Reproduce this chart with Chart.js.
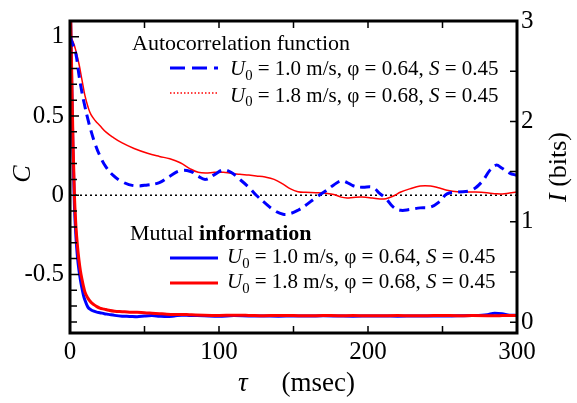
<!DOCTYPE html>
<html>
<head>
<meta charset="utf-8">
<script src="https://cdn.jsdelivr.net/npm/chart.js@4.4.1/dist/chart.umd.min.js"></script>
<style>
  html, body { margin: 0; padding: 0; background: #fff; }
  #chart { display: block; }
</style>
</head>
<body>
<canvas id="chart" width="577" height="403"></canvas>
<script>
// mutual information, I (bits), right axis
const tauMI = [0, 1, 2, 3, 4, 5, 6, 7, 8, 9, 10, 12, 14, 16, 18, 20, 23, 26, 30, 35, 40, 45, 50, 55, 60, 65, 70, 75, 80, 90,
  100, 110, 120, 130, 140, 150, 160, 170, 180, 190, 200, 210, 220, 230, 240, 250, 260, 270, 280, 285, 290, 295, 300];
const miBlue = [3.4, 2.5, 1.7, 1.15, 0.85, 0.65, 0.52, 0.42, 0.34, 0.27, 0.22, 0.15, 0.125, 0.11, 0.1, 0.095, 0.085, 0.078, 0.068, 0.06,
  0.058, 0.055, 0.062, 0.066, 0.06, 0.056, 0.062, 0.07, 0.068, 0.064, 0.06, 0.066, 0.063, 0.062, 0.06, 0.063, 0.061, 0.064, 0.062, 0.06,
  0.062, 0.063, 0.06, 0.062, 0.063, 0.061, 0.064, 0.066, 0.075, 0.09, 0.085, 0.07, 0.068];
const miRed = [3.4, 2.6, 1.8, 1.25, 0.95, 0.76, 0.62, 0.51, 0.43, 0.36, 0.3, 0.24, 0.2, 0.175, 0.155, 0.14, 0.13, 0.12, 0.11, 0.105,
  0.1, 0.098, 0.095, 0.09, 0.085, 0.08, 0.078, 0.078, 0.075, 0.07, 0.068, 0.07, 0.068, 0.065, 0.068, 0.066, 0.064, 0.067, 0.065, 0.066,
  0.064, 0.065, 0.066, 0.064, 0.065, 0.067, 0.065, 0.066, 0.065, 0.064, 0.066, 0.068, 0.068];

// autocorrelation, C, left axis
const tauAC = [0, 2, 4, 6, 8, 10, 12, 14, 17, 20, 24, 29, 35, 43, 52, 60, 67, 74, 81, 86, 91, 97, 103, 108, 114, 120, 125, 131, 137,
  143, 148, 153, 158, 165, 172, 177, 182, 186, 190, 196, 203, 208, 212, 217, 222, 228, 235, 242, 248, 253, 260, 269, 276, 282, 286,
  290, 295, 300];
const acBlue = [1.0, 0.95, 0.89, 0.76, 0.65, 0.56, 0.48, 0.41, 0.32, 0.25, 0.18, 0.125, 0.085, 0.06, 0.065, 0.08, 0.12, 0.155, 0.15,
  0.12, 0.1, 0.13, 0.16, 0.145, 0.1, 0.05, 0.0, -0.05, -0.095, -0.12, -0.115, -0.095, -0.065, -0.015, 0.03, 0.065, 0.09, 0.08, 0.06,
  0.05, 0.05, 0.01, -0.02, -0.075, -0.095, -0.09, -0.08, -0.075, -0.04, 0.008, 0.02, 0.03, 0.08, 0.16, 0.19, 0.17, 0.14, 0.125];
const acRed = [1.0, 0.97, 0.91, 0.83, 0.73, 0.63, 0.56, 0.51, 0.47, 0.44, 0.4, 0.365, 0.33, 0.295, 0.265, 0.245, 0.23, 0.205, 0.165,
  0.145, 0.14, 0.145, 0.145, 0.138, 0.132, 0.127, 0.122, 0.115, 0.1, 0.07, 0.04, 0.022, 0.018, 0.016, 0.012, 0.005, -0.012, -0.017,
  -0.014, -0.012, -0.018, -0.024, -0.022, -0.005, 0.02, 0.04, 0.058, 0.058, 0.045, 0.032, 0.022, 0.02, 0.019, 0.013, 0.009, 0.008,
  0.014, 0.02];

const tauTicks = [0, 100, 200, 300];
const cTicks = [-0.5, 0, 0.5, 1];
const iTicks = [0, 1, 2, 3];

const legendU = ['1.0', '1.8'];
const legendPhi = ['0.64', '0.68'];
const legendS = '0.45';

const blue = '#0000ff';
const red = '#ff0000';
const serif = '"Liberation Serif", "Times New Roman", serif';

function points(xs, ys) {
  return xs.map((x, i) => ({x: x, y: ys[i]}));
}

function setFont(ctx, p, size) {
  let fs = p.sub ? size * 0.7 : size;
  ctx.font = (p.italic ? 'italic ' : '') + (p.bold ? 'bold ' : '') + fs + 'px ' + serif;
}

function drawRich(ctx, x, y, parts, size) {
  parts.forEach(p => {
    setFont(ctx, p, size);
    ctx.fillText(p.t, x, p.sub ? y + size * 0.22 : y);
    x += ctx.measureText(p.t).width;
  });
  return x;
}

function richWidth(ctx, parts, size) {
  let w = 0;
  parts.forEach(p => {
    setFont(ctx, p, size);
    w += ctx.measureText(p.t).width;
  });
  return w;
}

function entryParts(i) {
  return [
    {t: 'U', italic: true}, {t: '0', sub: true},
    {t: ' = ' + legendU[i] + ' m/s, \u03c6 = ' + legendPhi[i] + ', '},
    {t: 'S', italic: true}, {t: ' = ' + legendS}
  ];
}

function sample(ctx, y, color, width, dash) {
  ctx.save();
  ctx.strokeStyle = color;
  ctx.lineWidth = width;
  ctx.setLineDash(dash);
  ctx.beginPath();
  ctx.moveTo(170, y);
  ctx.lineTo(218, y);
  ctx.stroke();
  ctx.restore();
}

const framePlugin = {
  id: 'frame',
  afterDatasetsDraw(chart) {
    const {ctx, chartArea: a, scales} = chart;
    ctx.save();
    ctx.strokeStyle = '#000';
    ctx.fillStyle = '#000';

    // inward tick marks
    ctx.lineWidth = 1.5;
    ctx.beginPath();
    for (let k = -8; k <= 11; k++) {
      const y = scales.y.getPixelForValue(k / 10);
      const len = k % 5 === 0 ? 9 : 7;
      ctx.moveTo(a.left, y); ctx.lineTo(a.left + len, y);
    }
    for (let k = 0; k <= 6; k++) {
      const y = scales.y1.getPixelForValue(k / 2);
      ctx.moveTo(a.right, y); ctx.lineTo(a.right - 7, y);
    }
    for (let k = 1; k < 6; k++) {
      const x = scales.x.getPixelForValue(k * 50);
      ctx.moveTo(x, a.bottom); ctx.lineTo(x, a.bottom - 7);
      ctx.moveTo(x, a.top); ctx.lineTo(x, a.top + 7);
    }
    ctx.stroke();

    ctx.lineWidth = 3;
    ctx.strokeRect(a.left, a.top, a.right - a.left, a.bottom - a.top);

    // axis titles
    ctx.textBaseline = 'middle';
    ctx.save();
    ctx.translate(23.5, 174);
    ctx.rotate(-Math.PI / 2);
    ctx.textAlign = 'center';
    ctx.font = 'italic 26px ' + serif;
    ctx.fillText('C', 0, 0);
    ctx.restore();

    ctx.save();
    ctx.translate(559, 167);
    ctx.rotate(-Math.PI / 2);
    const iParts = [{t: 'I', italic: true}, {t: ' (bits)'}];
    drawRich(ctx, -richWidth(ctx, iParts, 26) / 2, 0, iParts, 26);
    ctx.restore();

    ctx.textBaseline = 'alphabetic';
    drawRich(ctx, 238, 391, [{t: '\u03c4', italic: true}, {t: '     (msec)'}], 27);

    // annotations
    drawRich(ctx, 132, 50, [{t: 'Autocorrelation function'}], 22);
    sample(ctx, 68, blue, 3, [15, 7]);
    sample(ctx, 93, red, 1.5, [1.5, 2]);
    drawRich(ctx, 230, 75, entryParts(0), 21);
    drawRich(ctx, 230, 101.5, entryParts(1), 21);

    drawRich(ctx, 130, 240, [{t: 'Mutual '}, {t: 'information', bold: true}], 22);
    sample(ctx, 258, blue, 3, []);
    sample(ctx, 283, red, 3, []);
    drawRich(ctx, 227, 263, entryParts(0), 21);
    drawRich(ctx, 227, 288, entryParts(1), 21);

    ctx.restore();
  }
};

const tickFont = {family: serif, size: 25};

new Chart(document.getElementById('chart').getContext('2d'), {
  type: 'line',
  data: {
    datasets: [
      {
        data: points(tauAC, acBlue), yAxisID: 'y', borderColor: blue, borderWidth: 3,
        borderDash: [10, 6], tension: 0.4, pointRadius: 0, order: 1
      },
      {
        data: points(tauAC, acRed), yAxisID: 'y', borderColor: red, borderWidth: 1.5,
        tension: 0.4, pointRadius: 0, order: 2
      },
      {
        data: points([0, 300], [0, 0]), yAxisID: 'y', borderColor: '#000', borderWidth: 1.5,
        borderDash: [2, 3], pointRadius: 0, order: 3
      },
      {
        data: points(tauMI, miRed), yAxisID: 'y1', borderColor: red, borderWidth: 3,
        cubicInterpolationMode: 'monotone', pointRadius: 0, order: 4
      },
      {
        data: points(tauMI, miBlue), yAxisID: 'y1', borderColor: blue, borderWidth: 3,
        cubicInterpolationMode: 'monotone', pointRadius: 0, order: 5
      }
    ]
  },
  options: {
    responsive: false,
    animation: false,
    devicePixelRatio: 1,
    layout: {padding: {top: 15, left: 0, right: 0, bottom: 0}},
    plugins: {legend: {display: false}, tooltip: {enabled: false}},
    scales: {
      x: {
        type: 'linear', min: 0, max: 300,
        afterBuildTicks: s => { s.ticks = tauTicks.map(v => ({value: v})); },
        afterFit: s => { s.height = 70; },
        grid: {display: false, drawTicks: false},
        border: {display: false},
        ticks: {font: tickFont, color: '#000', padding: 4, maxRotation: 0, autoSkip: false}
      },
      y: {
        position: 'left', min: -0.87, max: 1.1,
        afterBuildTicks: s => { s.ticks = cTicks.map(v => ({value: v})); },
        afterFit: s => { s.width = 70; },
        grid: {display: false, drawTicks: false},
        border: {display: false},
        ticks: {font: tickFont, color: '#000', padding: 6, callback: v => String(v)}
      },
      y1: {
        position: 'right', min: -0.1075, max: 3,
        afterBuildTicks: s => { s.ticks = iTicks.map(v => ({value: v})); },
        afterFit: s => { s.width = 60; },
        grid: {display: false, drawTicks: false},
        border: {display: false},
        ticks: {font: tickFont, color: '#000', padding: 4, callback: v => String(v)}
      }
    }
  },
  plugins: [framePlugin]
});
</script>
</body>
</html>
